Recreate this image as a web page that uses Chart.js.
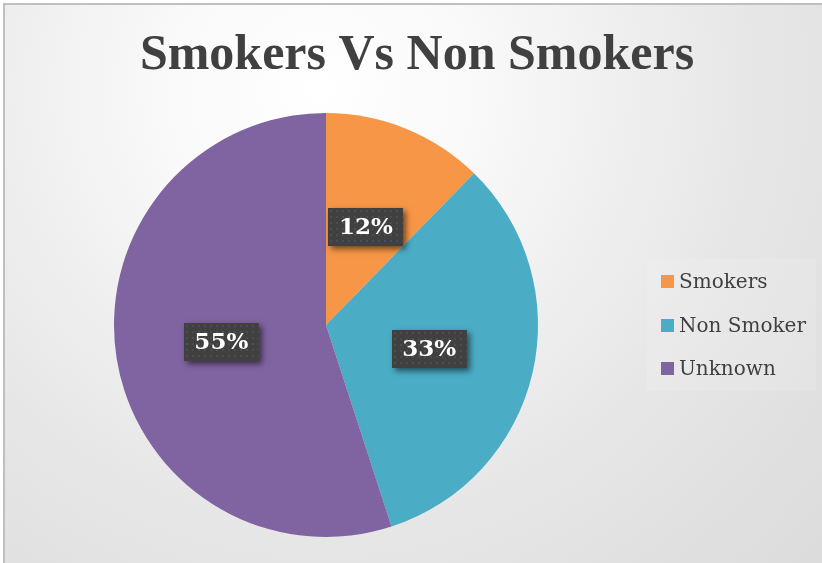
<!DOCTYPE html>
<html><head><meta charset="utf-8">
<script src="https://cdn.jsdelivr.net/npm/chart.js@4.4.1/dist/chart.umd.min.js"></script>
<style>html,body{margin:0;padding:0;background:#fff;}#wrap{width:822px;height:563px;position:relative;}</style>
</head><body><div id="wrap"><canvas id="c" width="822" height="563"></canvas></div>
<script>
const chartTitle = 'Smokers Vs Non Smokers';
const categories = ['Smokers', 'Non Smoker', 'Unknown'];
const shares = [12.3, 32.7, 55.0];
const pctLabels = ['12%', '33%', '55%'];
const colors = ['#F79646', '#4BACC6', '#8064A2'];

const SERIF = '"DejaVu Serif", "Liberation Serif", serif';
const TITLE_FONT = '"Liberation Serif", "DejaVu Serif", serif';

function dotPattern(ctx) {
  const p = document.createElement('canvas');
  p.width = 6; p.height = 6;
  const c = p.getContext('2d');
  c.fillStyle = '#404040'; c.fillRect(0, 0, 6, 6);
  c.fillStyle = '#4d4d4d'; c.fillRect(2, 2, 2, 2);
  return ctx.createPattern(p, 'repeat');
}

const bgPlugin = {
  id: 'bg',
  beforeDraw(chart) {
    const ctx = chart.ctx, W = chart.width, H = chart.height;
    ctx.save();
    ctx.fillStyle = '#ffffff';
    ctx.fillRect(0, 0, W, H);
    const g = ctx.createRadialGradient(320, 90, 0, 320, 90, 720);
    g.addColorStop(0, '#ffffff');
    g.addColorStop(0.22, '#f9f9f9');
    g.addColorStop(0.4, '#f0f0f0');
    g.addColorStop(0.62, '#e6e6e6');
    g.addColorStop(1, '#dadada');
    ctx.fillStyle = g;
    ctx.fillRect(3, 3, W - 3, H - 3);
    ctx.fillStyle = '#bfbfbf';
    ctx.fillRect(3, 3, W - 3, 2);
    ctx.fillRect(3, 3, 2, H - 3);
    // title
    ctx.fillStyle = '#404040';
    ctx.font = 'bold 50px ' + TITLE_FONT;
    ctx.textAlign = 'center';
    ctx.textBaseline = 'alphabetic';
    ctx.fillText(chartTitle, 417, 69);
    // legend
    ctx.fillStyle = 'rgba(255,255,255,0.12)';
    ctx.fillRect(647, 259, 169, 132);
    ctx.font = '20px ' + SERIF;
    ctx.textAlign = 'left';
    categories.forEach((name, i) => {
      const y = 275 + i * 43.7;
      ctx.fillStyle = colors[i];
      ctx.fillRect(661, Math.round(y), 13, 13);
      ctx.fillStyle = '#404040';
      ctx.fillText(name, 679, Math.round(y) + 13);
    });
    ctx.restore();
  }
};

const labelPlugin = {
  id: 'pctLabels',
  afterDatasetsDraw(chart) {
    const ctx = chart.ctx;
    const meta = chart.getDatasetMeta(0);
    const pat = dotPattern(ctx);
    meta.data.forEach((arc, i) => {
      const pt = arc.getCenterPoint();
      const w = 75, h = 38;
      const x = Math.round(pt.x - w / 2), y = Math.round(pt.y - h / 2);
      ctx.save();
      ctx.shadowColor = 'rgba(0,0,0,0.55)';
      ctx.shadowBlur = 6;
      ctx.shadowOffsetX = 3;
      ctx.shadowOffsetY = 3;
      ctx.fillStyle = '#404040';
      ctx.fillRect(x, y, w, h);
      ctx.restore();
      ctx.save();
      ctx.fillStyle = pat;
      ctx.translate(x, y);
      ctx.fillRect(0, 0, w, h);
      ctx.restore();
      ctx.save();
      ctx.fillStyle = '#ffffff';
      ctx.font = 'bold 23px ' + SERIF;
      ctx.textAlign = 'center';
      ctx.textBaseline = 'middle';
      ctx.fillText(pctLabels[i], pt.x, pt.y + 1);
      ctx.restore();
    });
  }
};

new Chart(document.getElementById('c'), {
  type: 'pie',
  data: {
    labels: categories,
    datasets: [{
      data: shares,
      backgroundColor: colors,
      borderWidth: 0,
      hoverOffset: 0
    }]
  },
  options: {
    responsive: false,
    animation: false,
    events: [],
    layout: { padding: { left: 114, right: 284, top: 113, bottom: 26 } },
    plugins: {
      legend: { display: false },
      title: { display: false },
      tooltip: { enabled: false }
    }
  },
  plugins: [bgPlugin, labelPlugin]
});
</script>
</body></html>
